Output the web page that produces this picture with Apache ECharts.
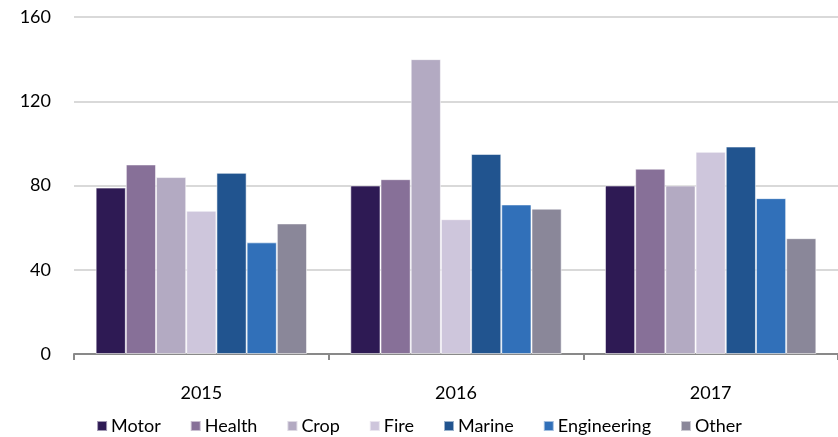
<!DOCTYPE html>
<html>
<head>
<meta charset="utf-8">
<script src="https://cdn.jsdelivr.net/npm/echarts@6/dist/echarts.min.js"></script>
<style>
  html, body { margin: 0; padding: 0; background: #fff; }
  #chart { width: 838px; height: 437px; }
</style>
</head>
<body>
<div id="chart"></div>
<script>
// Years on the category axis
const years = ['2015', '2016', '2017'];

// Values per line of business
const motor       = [79, 80, 80];
const health      = [90, 83, 88];
const crop        = [84, 140, 80];
const fire        = [68, 64, 96];
const marine      = [86, 95, 98.5];
const engineering = [53, 71, 74];
const other       = [62, 69, 55];

// Value axis ticks
const yTicks = [0, 40, 80, 120, 160];

const seriesNames = ['Motor', 'Health', 'Crop', 'Fire', 'Marine', 'Engineering', 'Other'];
const seriesData  = [motor, health, crop, fire, marine, engineering, other];
const colors = ['#2E1A54', '#877098', '#B3AAC2', '#CEC6DC', '#21548F', '#3170B9', '#8A8799'];

const fontFamily = 'Lato, "Open Sans", sans-serif';

const chart = echarts.init(document.getElementById('chart'), null, { renderer: 'canvas' });

chart.setOption({
  animation: false,
  color: colors,
  textStyle: { fontFamily: fontFamily },
  grid: { left: 74, top: 17, width: 767, height: 337, containLabel: false },
  legend: {
    bottom: 2,
    left: 'center',
    padding: 0,
    itemWidth: 10,
    itemHeight: 10,
    itemGap: 29,
    icon: 'rect',
    textStyle: { fontFamily: fontFamily, fontSize: 18, color: '#000', padding: [0, 0, 0, -1] },
    data: seriesNames
  },
  xAxis: {
    type: 'category',
    data: years,
    boundaryGap: true,
    axisLine: { lineStyle: { color: '#898989', width: 2 } },
    axisTick: { show: true, length: 6, lineStyle: { color: '#898989', width: 2 } },
    axisLabel: { fontSize: 18, color: '#000', margin: 30, fontFamily: fontFamily }
  },
  yAxis: {
    type: 'value',
    min: yTicks[0],
    max: yTicks[yTicks.length - 1],
    interval: yTicks[1] - yTicks[0],
    axisLine: { show: false },
    axisTick: { show: false },
    axisLabel: { fontSize: 18, color: '#000', margin: 23, fontFamily: fontFamily },
    splitLine: { lineStyle: { color: '#D9D9D9', width: 2 } }
  },
  series: seriesNames.map((name, i) => ({
    name: name,
    type: 'bar',
    data: seriesData[i],
    barGap: '0%',
    barCategoryGap: '17%',
    itemStyle: { color: colors[i], borderColor: 'rgba(255,255,255,0.55)', borderWidth: 1 }
  }))
});
</script>
</body>
</html>
